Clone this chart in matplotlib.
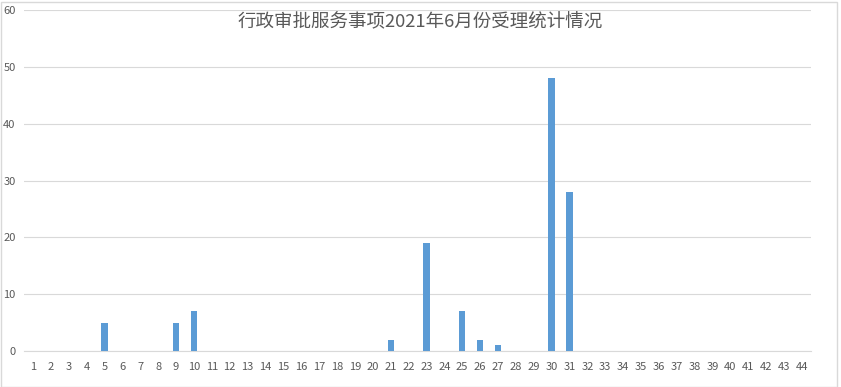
import matplotlib.pyplot as plt
from matplotlib.patches import Rectangle

plt.rcParams['font.family'] = ['Noto Sans CJK SC', 'DejaVu Sans']

days = list(range(1, 45))
counts = [0] * 44
nonzero = {5: 5, 9: 5, 10: 7, 21: 2, 23: 19, 25: 7, 26: 2, 27: 1, 30: 48, 31: 28}
for d, v in nonzero.items():
    counts[d - 1] = v
title = '行政审批服务事项2021年6月份受理统计情况'

fig = plt.figure(figsize=(8.41, 3.87), dpi=100)
ax = fig.add_axes([0.0285, 0.093, 0.9358, 0.881])

ax.bar(days, counts, width=0.35, color='#5b9bd5', zorder=3)
ax.set_xlim(0.5, 44.5)
ax.set_ylim(0, 60)
ax.set_yticks(range(0, 61, 10))
ax.set_xticks(days)
ax.set_xticklabels([str(d) for d in days])
ax.grid(axis='y', color='#d9d9d9', linewidth=0.8, zorder=0)
for s in ['top', 'right', 'left']:
    ax.spines[s].set_visible(False)
ax.spines['bottom'].set_color('#d9d9d9')
ax.tick_params(axis='both', length=0, labelsize=8, labelcolor='#595959')
ax.tick_params(axis='x', pad=8)
ax.tick_params(axis='y', pad=6)

fig.text(0.5, 0.943, title, ha='center', va='center', fontsize=13.3, color='#595959')
fig.patches.append(Rectangle((0.001, 0.001), 0.994, 0.994, transform=fig.transFigure,
                             fill=False, edgecolor='#d9d9d9', linewidth=1))

fig.savefig('out.png', dpi=100)
